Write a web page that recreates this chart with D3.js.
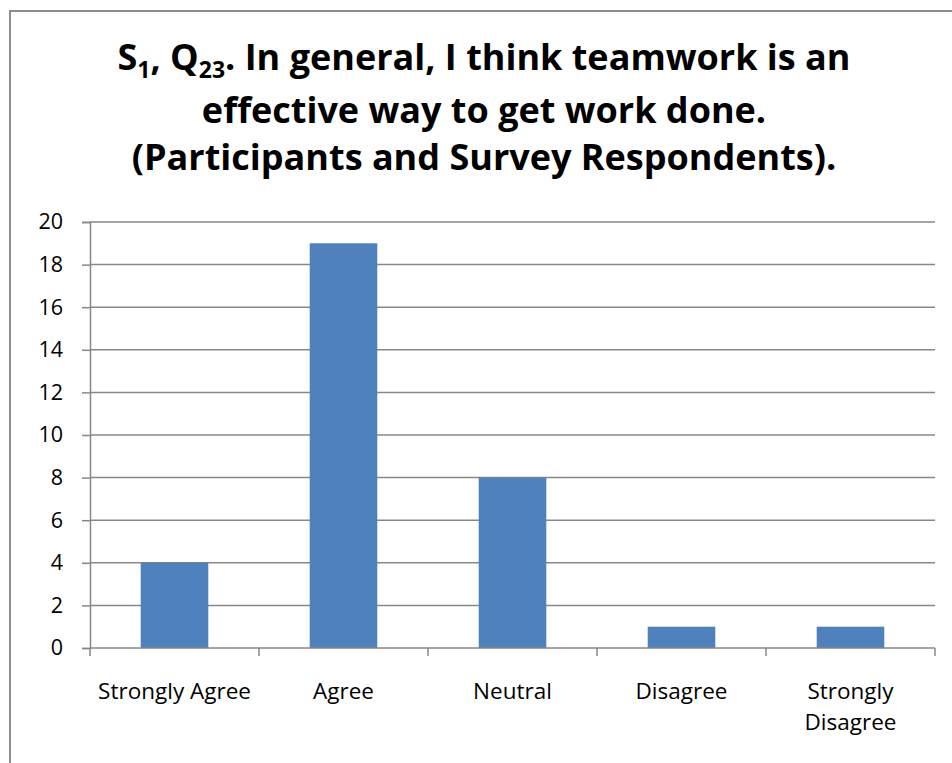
<!DOCTYPE html>
<html>
<head>
<meta charset="utf-8">
<script src="https://cdn.jsdelivr.net/npm/d3@7"></script>
<style>
  html, body { margin: 0; padding: 0; background: #fff; }
  svg { display: block; }
  text { font-family: "Open Sans", "Noto Sans", sans-serif; fill: #000; }
</style>
</head>
<body>
<svg id="chart" width="952" height="763"></svg>
<script>
// Survey responses
const categories = ["Strongly Agree", "Agree", "Neutral", "Disagree", "Strongly Disagree"];
const counts = [4, 19, 8, 1, 1];
const yTicks = [0, 2, 4, 6, 8, 10, 12, 14, 16, 18, 20];

const svg = d3.select("#chart");

// Outer chart frame
svg.append("rect")
  .attr("x", 10).attr("y", 11)
  .attr("width", 960).attr("height", 800)
  .attr("fill", "none")
  .attr("stroke", "#8c8c8c")
  .attr("stroke-width", 2);

// Title, with subscripts on the first line
const title = svg.append("text")
  .attr("text-anchor", "middle")
  .attr("font-weight", "bold")
  .attr("font-size", 36);

const l1 = title.append("tspan").attr("x", 484).attr("y", 70);
l1.append("tspan").text("S");
l1.append("tspan").attr("font-size", 23).attr("dy", 8).text("1");
l1.append("tspan").attr("dy", -8).text(", Q");
l1.append("tspan").attr("font-size", 23).attr("dy", 8).text("23");
l1.append("tspan").attr("dy", -8).text(". In general, I think teamwork is an");
title.append("tspan").attr("x", 484).attr("y", 123).text("effective way to get work done.");
title.append("tspan").attr("x", 484).attr("y", 170).text("(Participants and Survey Respondents).");

// Plot area
const plotLeft = 90, plotRight = 935, plotTop = 222, plotBottom = 648;

const x = d3.scaleBand()
  .domain(categories)
  .range([plotLeft, plotRight])
  .paddingInner(0.6)
  .paddingOuter(0.3);

const xEdges = d3.scaleLinear().domain([0, categories.length]).range([plotLeft, plotRight]);

const y = d3.scaleLinear().domain([0, 20]).range([plotBottom, plotTop]);

// Horizontal gridlines
svg.append("g")
  .selectAll("line")
  .data(yTicks.filter(d => d > 0))
  .join("line")
  .attr("x1", plotLeft).attr("x2", plotRight)
  .attr("y1", d => y(d)).attr("y2", d => y(d))
  .attr("stroke", "#878787")
  .attr("stroke-width", 1.5);

// Bars
svg.append("g")
  .selectAll("rect")
  .data(categories)
  .join("rect")
  .attr("x", d => x(d))
  .attr("width", x.bandwidth())
  .attr("y", (d, i) => y(counts[i]))
  .attr("height", (d, i) => y(0) - y(counts[i]))
  .attr("fill", "#4f81bd");

// Y axis
const yAxis = svg.append("g")
  .attr("transform", `translate(${plotLeft},0)`)
  .call(d3.axisLeft(y).tickValues(yTicks).tickSize(8).tickPadding(19).tickFormat(d3.format("d")));
yAxis.select(".domain").attr("stroke", "#878787").attr("stroke-width", 1.5);
yAxis.selectAll(".tick line").attr("stroke", "#878787").attr("stroke-width", 1.5);
yAxis.selectAll(".tick text")
  .attr("font-size", 21.5)
  .attr("font-family", "'Open Sans', 'Noto Sans', sans-serif")
  .attr("fill", "#000");

// X axis baseline and category separators
const xg = svg.append("g");
xg.append("line")
  .attr("x1", plotLeft).attr("x2", plotRight)
  .attr("y1", plotBottom).attr("y2", plotBottom)
  .attr("stroke", "#878787").attr("stroke-width", 1.5);
xg.selectAll("line.sep")
  .data(d3.range(categories.length + 1))
  .join("line")
  .attr("class", "sep")
  .attr("x1", d => xEdges(d)).attr("x2", d => xEdges(d))
  .attr("y1", plotBottom).attr("y2", plotBottom + 8)
  .attr("stroke", "#878787").attr("stroke-width", 1.5);

// Category labels (wrapped where they don't fit)
const wrapped = {"Strongly Disagree": ["Strongly", "Disagree"]};
xg.selectAll("text.cat")
  .data(categories)
  .join("text")
  .attr("class", "cat")
  .attr("text-anchor", "middle")
  .attr("font-size", 22.5)
  .each(function(d) {
    const lines = wrapped[d] || [d];
    const t = d3.select(this);
    lines.forEach((ln, i) => {
      t.append("tspan")
        .attr("x", x(d) + x.bandwidth() / 2)
        .attr("y", 699 + i * 31)
        .text(ln);
    });
  });
</script>
</body>
</html>
